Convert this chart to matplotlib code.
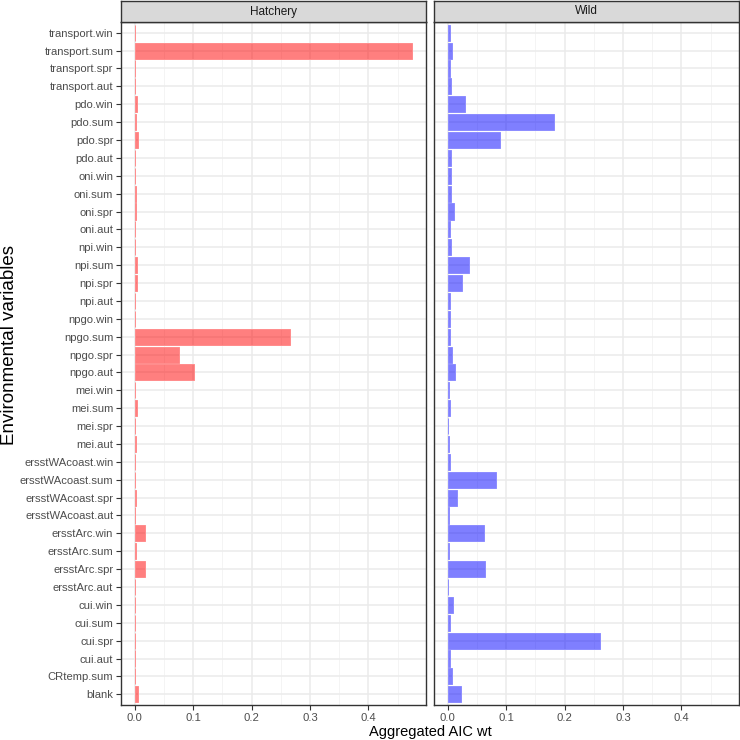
import numpy as np
import matplotlib
matplotlib.use("Agg")
import matplotlib.pyplot as plt
from matplotlib.ticker import MultipleLocator

plt.rcParams['font.family'] = ['Liberation Sans', 'DejaVu Sans']

# variables, top to bottom
variables = ["transport.win", "transport.sum", "transport.spr", "transport.aut",
             "pdo.win", "pdo.sum", "pdo.spr", "pdo.aut",
             "oni.win", "oni.sum", "oni.spr", "oni.aut",
             "npi.win", "npi.sum", "npi.spr", "npi.aut",
             "npgo.win", "npgo.sum", "npgo.spr", "npgo.aut",
             "mei.win", "mei.sum", "mei.spr", "mei.aut",
             "ersstWAcoast.win", "ersstWAcoast.sum", "ersstWAcoast.spr", "ersstWAcoast.aut",
             "ersstArc.win", "ersstArc.sum", "ersstArc.spr", "ersstArc.aut",
             "cui.win", "cui.sum", "cui.spr", "cui.aut",
             "CRtemp.sum", "blank"]

hatchery = [0.0005, 0.475, 0.0005, 0.001,
            0.004, 0.0025, 0.006, 0.001,
            0.0005, 0.0025, 0.002, 0.0005,
            0.0005, 0.003, 0.003, 0.0005,
            0.0005, 0.266, 0.075, 0.102,
            0.0005, 0.004, 0.0005, 0.002,
            0.0005, 0.0005, 0.002, 0.0005,
            0.018, 0.002, 0.017, 0.0005,
            0.0005, 0.0005, 0.0005, 0.0005,
            0.0005, 0.006]

wild = [0.003, 0.0075, 0.003, 0.006,
        0.029, 0.181, 0.089, 0.006,
        0.005, 0.006, 0.010, 0.003,
        0.005, 0.037, 0.025, 0.003,
        0.004, 0.004, 0.007, 0.012,
        0.002, 0.004, 0.001, 0.002,
        0.004, 0.083, 0.015, 0.002,
        0.062, 0.002, 0.063, 0.001,
        0.008, 0.003, 0.260, 0.003,
        0.007, 0.023]

panels = ["Hatchery", "Wild"]
fills = [(1, 0, 0, 0.5), (0, 0, 1, 0.5)]
edges = ["#FF8C8C", "#8C8CFF"]

W, H = 740, 740
fig = plt.figure(figsize=(7.4, 7.4), dpi=100)

ypos = np.arange(len(variables))[::-1] + 1
xmax = max(max(hatchery), max(wild))
pad = 0.05 * xmax

lefts = [121, 434]
pw = 305
top, bottom = 22, 705
strip_h = 21

for i, (name, vals) in enumerate(zip(panels, [hatchery, wild])):
    ax = fig.add_axes([lefts[i] / W, (H - bottom) / H, pw / W, (bottom - top) / H])
    ax.barh(ypos, vals, height=0.9, facecolor=fills[i], zorder=3,
            edgecolor=edges[i], linewidth=0.7)
    ax.set_xlim(-pad, xmax + pad)
    ax.set_ylim(0.4, len(variables) + 0.6)
    ax.xaxis.set_minor_locator(MultipleLocator(0.05))
    ax.set_xticks(np.arange(0, 0.45, 0.1))
    ax.set_xticklabels(["0.0", "0.1", "0.2", "0.3", "0.4"])
    ax.grid(which='major', color='#EBEBEB', linewidth=1.1, zorder=0)
    ax.grid(which='minor', axis='x', color='#F2F2F2', linewidth=0.6, zorder=0)
    ax.set_axisbelow(True)
    ax.tick_params(which='minor', length=0)
    ax.tick_params(which='major', length=3.5, color='#333333', labelcolor='#4D4D4D',
                   labelsize=8.1, width=0.8, pad=2)
    ax.set_yticks(ypos)
    if i == 0:
        ax.set_yticklabels(variables)
    else:
        ax.set_yticklabels([])
        ax.tick_params(axis='y', length=0)
    for s in ax.spines.values():
        s.set_color('#333333')
        s.set_linewidth(1.0)

    # facet strip
    sax = fig.add_axes([lefts[i] / W, (H - top) / H, pw / W, strip_h / H])
    sax.set_facecolor('#D9D9D9')
    sax.set_xticks([])
    sax.set_yticks([])
    for s in sax.spines.values():
        s.set_color('#333333')
        s.set_linewidth(1.0)
    sax.text(0.5, 0.5, name, ha='center', va='center', fontsize=8.5,
             color='#1A1A1A', transform=sax.transAxes)

fig.text(430 / W, (H - 732) / H, "Aggregated AIC wt", ha='center', va='center',
         fontsize=10.5)
fig.text(10 / W, (H - 345) / H, "Environmental variables", rotation=90,
         ha='center', va='center', fontsize=13.5)

fig.savefig("out.png", dpi=100)
